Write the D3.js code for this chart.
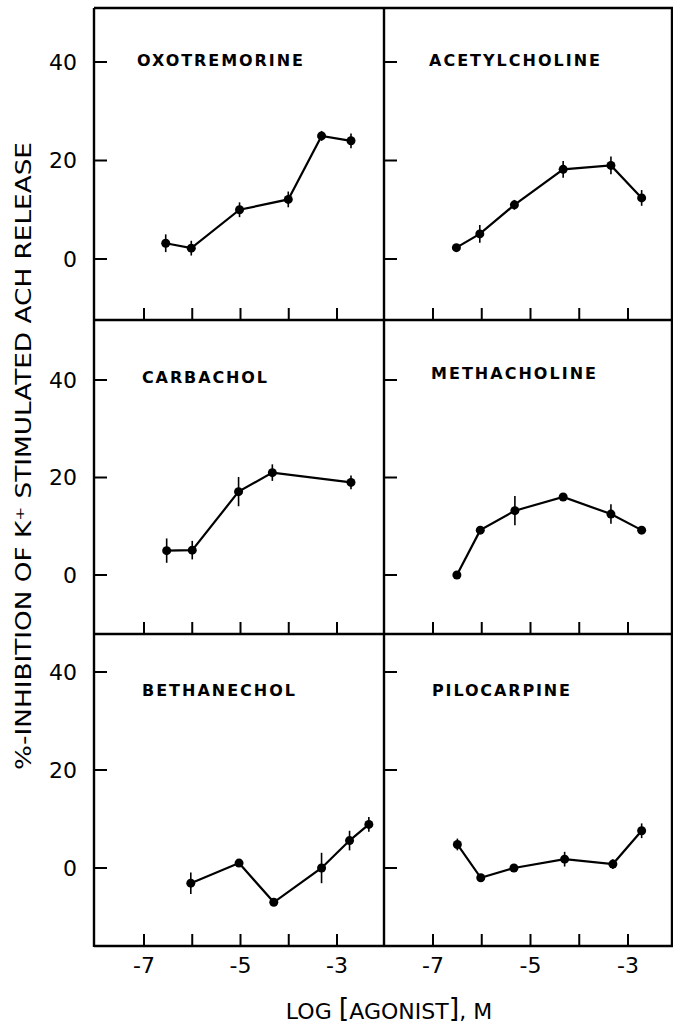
<!DOCTYPE html>
<html><head><meta charset="utf-8">
<script src="https://cdn.jsdelivr.net/npm/d3@7"></script>
<style>html,body{margin:0;padding:0;background:#fff;}svg{display:block;}</style>
</head><body>
<svg id="c" width="673" height="1025"></svg>
<script>
// ---- data ----
const agonists = ["OXOTREMORINE","ACETYLCHOLINE","CARBACHOL","METHACHOLINE","BETHANECHOL","PILOCARPINE"];
const oxoDose = [-6.55,-6.02,-5.02,-4.01,-3.32,-2.71];
const oxoVal  = [3.2,2.2,10.0,12.1,25.0,24.0];
const oxoErr  = [1.8,1.5,1.5,1.6,1.0,1.5];
const achDose = [-6.52,-6.04,-5.33,-4.33,-3.35,-2.72];
const achVal  = [2.3,5.1,11.0,18.2,19.0,12.4];
const achErr  = [0.5,1.8,1.0,1.7,1.8,1.6];
const carbDose = [-6.53,-6.0,-5.04,-4.34,-2.71];
const carbVal  = [5.0,5.1,17.1,21.0,19.0];
const carbErr  = [2.5,1.9,3.0,1.7,1.4];
const methDose = [-6.51,-6.03,-5.32,-4.33,-3.35,-2.72];
const methVal  = [0.0,9.2,13.2,16.0,12.5,9.2];
const methErr  = [0.8,0.5,3.0,0.5,2.0,0.5];
const bethDose = [-6.03,-5.03,-4.31,-3.32,-2.74,-2.34];
const bethVal  = [-3.1,1.0,-7.0,0.0,5.6,8.9];
const bethErr  = [2.2,0.8,0.7,3.1,2.0,1.5];
const piloDose = [-6.5,-6.02,-5.34,-4.3,-3.31,-2.72];
const piloVal  = [4.8,-2.0,0.0,1.8,0.8,7.6];
const piloErr  = [1.2,0.5,0.5,1.5,1.0,1.5];
const yTicks = [0,20,40];
const xTicks = [-7,-6,-5,-4,-3];
const xTickLabels = [-7,-5,-3];
const yTitle = "%-INHIBITION OF K\u207A STIMULATED ACH RELEASE";

const series = [
  {name:agonists[0], dose:oxoDose, val:oxoVal, err:oxoErr},
  {name:agonists[1], dose:achDose, val:achVal, err:achErr},
  {name:agonists[2], dose:carbDose, val:carbVal, err:carbErr},
  {name:agonists[3], dose:methDose, val:methVal, err:methErr},
  {name:agonists[4], dose:bethDose, val:bethVal, err:bethErr},
  {name:agonists[5], dose:piloDose, val:piloVal, err:piloErr}
];

// ---- layout ----
const svg = d3.select("#c");
const colX = [94, 384, 672];
const rowY = [8, 320, 634, 946];
const xScales = [
  d3.scaleLinear().domain([-7,-3]).range([144,337]),
  d3.scaleLinear().domain([-7,-3]).range([433,628])
];
const yScales = [
  d3.scaleLinear().domain([0,40]).range([259,62]),
  d3.scaleLinear().domain([0,40]).range([575,380]),
  d3.scaleLinear().domain([0,40]).range([868,672])
];
const labelPos = [[137,66],[429,66],[142,383],[431,379],[142,696],[432,696]];
const labelW = [166,171,125,165,153,138];
const font = "'DejaVu Sans', Verdana, sans-serif";

// frame
const g = svg.append("g").attr("stroke","#000").attr("stroke-width",2.4).attr("fill","none");
rowY.forEach(y=>g.append("line").attr("x1",colX[0]).attr("x2",colX[2]+1).attr("y1",y).attr("y2",y));
colX.forEach(x=>g.append("line").attr("x1",x).attr("x2",x).attr("y1",rowY[0]).attr("y2",rowY[3]+1));

series.forEach((s,i)=>{
  const col = i%2, row = Math.floor(i/2);
  const x = xScales[col], y = yScales[row];
  const pg = svg.append("g");
  // y ticks
  pg.selectAll(".yt").data(yTicks).enter().append("line")
    .attr("x1",colX[col]).attr("x2",colX[col]+13)
    .attr("y1",d=>y(d)).attr("y2",d=>y(d))
    .attr("stroke","#000").attr("stroke-width",2);
  // x ticks
  pg.selectAll(".xt").data(xTicks).enter().append("line")
    .attr("x1",d=>x(d)).attr("x2",d=>x(d))
    .attr("y1",rowY[row+1]).attr("y2",rowY[row+1]-12)
    .attr("stroke","#000").attr("stroke-width",2);
  if(col===0){
    pg.selectAll(".yl").data(yTicks).enter().append("text")
      .attr("x",77).attr("y",d=>y(d)).attr("dy","0.36em")
      .attr("text-anchor","end").attr("font-family",font).attr("font-size",22)
      .text(d=>d);
  }
  if(row===2){
    pg.selectAll(".xl").data(xTickLabels).enter().append("text")
      .attr("x",d=>x(d)).attr("y",973)
      .attr("text-anchor","middle").attr("font-family",font).attr("font-size",22)
      .text(d=>"-"+Math.abs(d));
  }
  // label
  pg.append("text").attr("x",labelPos[i][0]).attr("y",labelPos[i][1])
    .attr("font-family",font).attr("font-weight","bold").attr("font-size",16)
    .attr("textLength",labelW[i]).attr("lengthAdjust","spacing")
    .text(s.name);
  const pts = s.dose.map((d,k)=>({x:d,v:s.val[k],e:s.err[k]}));
  // line
  pg.append("path").datum(pts)
    .attr("d",d3.line().x(d=>x(d.x)).y(d=>y(d.v)))
    .attr("fill","none").attr("stroke","#000").attr("stroke-width",2.2);
  // error bars
  pg.selectAll(".eb").data(pts).enter().append("line")
    .attr("x1",d=>x(d.x)).attr("x2",d=>x(d.x))
    .attr("y1",d=>y(d.v-d.e)).attr("y2",d=>y(d.v+d.e))
    .attr("stroke","#000").attr("stroke-width",1.6);
  // markers
  pg.selectAll(".pt").data(pts).enter().append("circle")
    .attr("cx",d=>x(d.x)).attr("cy",d=>y(d.v)).attr("r",4.5).attr("fill","#000");
});

// axis titles
svg.append("text").attr("transform","translate(31,456) rotate(-90)")
  .attr("text-anchor","middle").attr("font-family",font).attr("font-size",21)
  .attr("textLength",628).attr("lengthAdjust","spacingAndGlyphs")
  .text(yTitle);

const xt = svg.append("text").attr("x",389).attr("y",1019).attr("text-anchor","middle")
  .attr("font-family",font).attr("font-size",22);
xt.append("tspan").text("LOG ");
xt.append("tspan").attr("font-size",27).attr("dy",-2).text("[");
xt.append("tspan").attr("dy",2).text("AGONIST");
xt.append("tspan").attr("font-size",27).attr("dy",-2).text("]");
xt.append("tspan").attr("dy",2).text(", M");
</script>
</body></html>
